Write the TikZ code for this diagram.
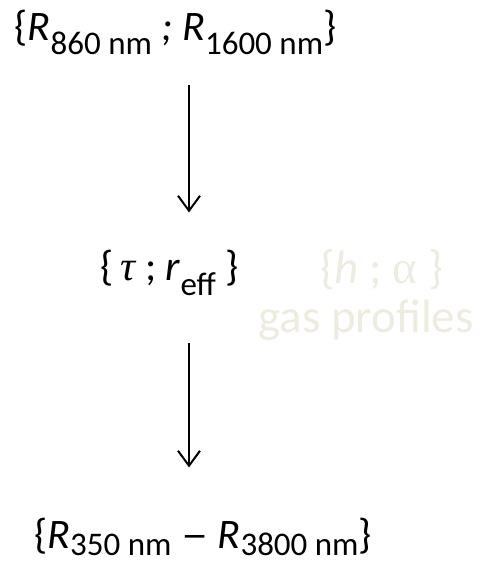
\documentclass[tikz,border=0pt]{standalone}
\usepackage{fontspec}
\setmainfont{Carlito}
\newfontfamily\grkfont{Liberation Serif}
\usetikzlibrary{arrows.meta,positioning}
\definecolor{paletan}{HTML}{EEECE1}
\tikzset{lbl/.style={inner sep=0pt,anchor=base,font=\fontsize{42}{42}\selectfont},
  faint/.style={lbl,text=paletan,font=\fontsize{47}{47}\selectfont},
  arr/.style={-{Straight Barb[length=15pt,width=22pt]},line width=2pt}}
\newcommand\lowsub[2][14pt]{\raisebox{-#1}{\fontsize{33}{33}\selectfont #2}}
\newcommand\longdash{\scalebox{1.3}[1]{--}}
\begin{document}
\begin{tikzpicture}[x=1pt,y=-1pt]
\useasboundingbox (0,0) rectangle (481,563);
\node[lbl] (top) at (175.5,40) {\{\textit{R}\lowsub{860 nm} \textit{; R}\lowsub{1600 nm}\}};
\node[lbl] (mid) at (169.5,280) {\{\,{\grkfont\itshape τ} ; \textit{r}\lowsub[15pt]{eff} \}};
\node[lbl] (bot) at (203,548) {\{\textit{R}\lowsub[7pt]{350 nm} \longdash{} \textit{R}\lowsub[7pt]{3800 nm}\}};
\node[faint] (hal) at (381.5,283) {\{\textit{h} ; {\grkfont α} \}};
\node[faint] (gas) at (366,332) {gas profiles};
\coordinate (ax) at (189,0);
\draw[arr,shorten <=31pt,shorten >=37pt] (top.south -| ax) -- (mid.north -| ax);
\draw[arr,shorten <=48pt,shorten >=50pt] (mid.south -| ax) -- (bot.north -| ax);
\end{tikzpicture}
\end{document}
